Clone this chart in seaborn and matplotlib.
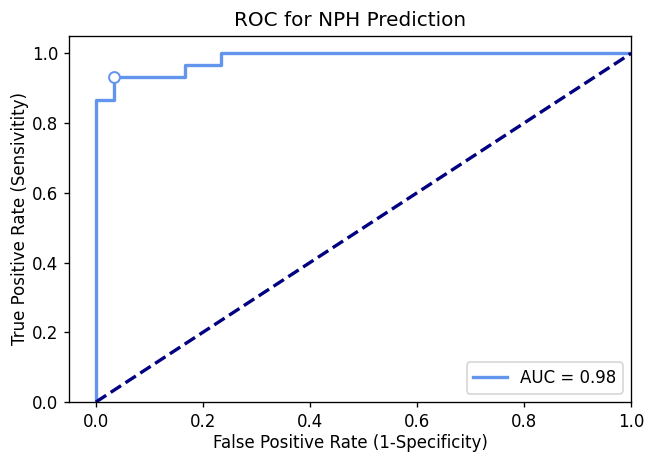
import matplotlib
matplotlib.use("Agg")
import matplotlib.pyplot as plt
import seaborn as sns
import pandas as pd

# ROC points
fpr = [0.0, 0.0, 1/30, 1/30, 5/30, 5/30, 7/30, 7/30, 1.0]
tpr = [0.0, 26/30, 26/30, 28/30, 28/30, 29/30, 29/30, 1.0, 1.0]
auc_value = 0.98

# chosen operating point
best_fpr = [1/30]
best_tpr = [28/30]

chance = [0.0, 1.0]

roc_df = pd.DataFrame({"fpr": fpr, "tpr": tpr})

fig, ax = plt.subplots(figsize=(646 / 120, 454 / 120), dpi=120)
fig.subplots_adjust(left=0.107, right=0.977, bottom=0.1145, top=0.921)

sns.lineplot(data=roc_df, x="fpr", y="tpr", sort=False, estimator=None,
             color="cornflowerblue", linewidth=2, label=f"AUC = {auc_value:.2f}", ax=ax)
sns.lineplot(x=chance, y=chance, color="navy", linewidth=2, linestyle="--", ax=ax)
ax.plot(best_fpr, best_tpr, "o", markersize=6.5, markerfacecolor="white",
        markeredgecolor="cornflowerblue", markeredgewidth=1.2, zorder=5)

ax.set_xlim(-0.05, 1.0)
ax.set_ylim(0.0, 1.05)
ax.tick_params(length=3)
ax.set_xlabel("False Positive Rate (1-Specificity)", labelpad=2)
ax.set_ylabel("True Positive Rate (Sensivitity)", labelpad=2)
ax.set_title("ROC for NPH Prediction")
ax.legend(loc="lower right")

fig.savefig("out.png", dpi=120)
